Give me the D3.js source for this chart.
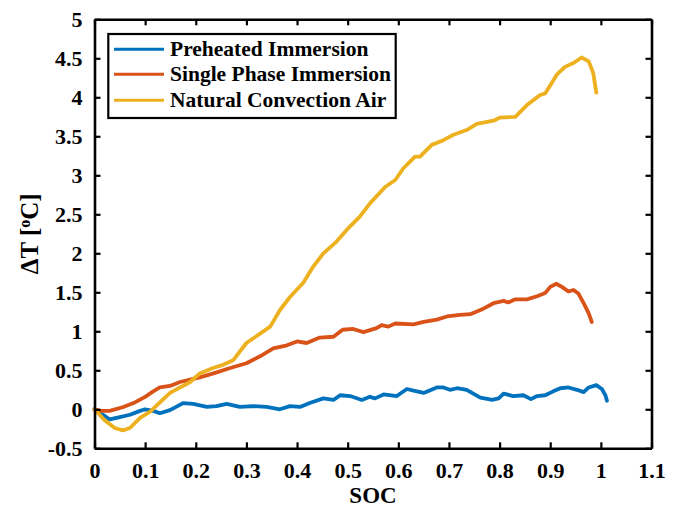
<!DOCTYPE html>
<html>
<head>
<meta charset="utf-8">
<script src="https://cdn.jsdelivr.net/npm/d3@7"></script>
<style>
  html, body { margin: 0; padding: 0; background: #fff; }
  svg { display: block; font-family: "Liberation Serif", "Times New Roman", serif; font-weight: bold; }
</style>
</head>
<body>
<svg id="chart" width="680" height="513"></svg>
<script>
// Temperature rise vs. state of charge for three cooling strategies
const seriesNames = ["Preheated Immersion", "Single Phase Immersion", "Natural Convection Air"];
const seriesColors = ["#0072BD", "#D95319", "#EDB120"];

const preheatedSOC = [0, 0.017, 0.03, 0.05, 0.07, 0.09, 0.10, 0.116, 0.129, 0.149, 0.175, 0.195, 0.222, 0.241, 0.261, 0.287, 0.314, 0.34, 0.366, 0.386, 0.406, 0.425, 0.452, 0.472, 0.485, 0.505, 0.528, 0.544, 0.554, 0.571, 0.597, 0.617, 0.63, 0.65, 0.676, 0.689, 0.702, 0.716, 0.735, 0.748, 0.762, 0.778, 0.785, 0.798, 0.808, 0.827, 0.847, 0.862, 0.874, 0.89, 0.906, 0.92, 0.936, 0.953, 0.966, 0.976, 0.991, 1.002, 1.009, 1.012];
const preheatedDT  = [0, -0.07, -0.13, -0.10, -0.07, -0.02, 0.0, -0.02, -0.05, -0.01, 0.08, 0.07, 0.03, 0.04, 0.07, 0.03, 0.04, 0.03, 0.0, 0.04, 0.03, 0.08, 0.14, 0.12, 0.18, 0.17, 0.12, 0.16, 0.14, 0.19, 0.17, 0.26, 0.24, 0.21, 0.28, 0.28, 0.25, 0.27, 0.25, 0.20, 0.15, 0.13, 0.12, 0.14, 0.20, 0.17, 0.18, 0.13, 0.17, 0.18, 0.23, 0.27, 0.28, 0.25, 0.22, 0.28, 0.31, 0.26, 0.18, 0.11];

const singleSOC = [0, 0.011, 0.03, 0.057, 0.077, 0.10, 0.116, 0.129, 0.149, 0.169, 0.189, 0.208, 0.235, 0.268, 0.30, 0.327, 0.353, 0.38, 0.40, 0.419, 0.445, 0.472, 0.49, 0.511, 0.531, 0.557, 0.567, 0.58, 0.594, 0.63, 0.65, 0.676, 0.696, 0.722, 0.742, 0.768, 0.788, 0.808, 0.817, 0.831, 0.854, 0.874, 0.89, 0.90, 0.912, 0.923, 0.936, 0.946, 0.956, 0.966, 0.976, 0.982];
const singleDT  = [0, -0.02, -0.02, 0.03, 0.08, 0.16, 0.23, 0.28, 0.30, 0.35, 0.38, 0.41, 0.46, 0.53, 0.59, 0.68, 0.78, 0.82, 0.87, 0.85, 0.92, 0.93, 1.02, 1.03, 0.99, 1.04, 1.08, 1.06, 1.10, 1.09, 1.12, 1.15, 1.19, 1.21, 1.22, 1.29, 1.36, 1.39, 1.37, 1.41, 1.41, 1.45, 1.49, 1.57, 1.61, 1.57, 1.51, 1.53, 1.48, 1.36, 1.23, 1.12];

const naturalSOC = [0, 0.02, 0.04, 0.056, 0.07, 0.09, 0.11, 0.149, 0.189, 0.208, 0.234, 0.254, 0.274, 0.30, 0.327, 0.347, 0.366, 0.386, 0.412, 0.432, 0.452, 0.478, 0.498, 0.524, 0.544, 0.574, 0.594, 0.61, 0.633, 0.643, 0.666, 0.689, 0.709, 0.735, 0.755, 0.788, 0.801, 0.831, 0.854, 0.88, 0.89, 0.913, 0.929, 0.946, 0.962, 0.976, 0.985, 0.991];
const naturalDT  = [0, -0.14, -0.24, -0.27, -0.24, -0.11, -0.03, 0.21, 0.35, 0.46, 0.53, 0.57, 0.63, 0.85, 0.97, 1.06, 1.27, 1.44, 1.62, 1.83, 2.0, 2.15, 2.30, 2.47, 2.64, 2.85, 2.94, 3.09, 3.24, 3.24, 3.39, 3.45, 3.52, 3.58, 3.66, 3.70, 3.74, 3.75, 3.90, 4.03, 4.05, 4.29, 4.39, 4.44, 4.51, 4.46, 4.31, 4.06];

const xTickValues = [0, 0.1, 0.2, 0.3, 0.4, 0.5, 0.6, 0.7, 0.8, 0.9, 1, 1.1];
const xTickLabels = ["0", "0.1", "0.2", "0.3", "0.4", "0.5", "0.6", "0.7", "0.8", "0.9", "1", "1.1"];
const yTickValues = [-0.5, 0, 0.5, 1, 1.5, 2, 2.5, 3, 3.5, 4, 4.5, 5];
const yTickLabels = ["-0.5", "0", "0.5", "1", "1.5", "2", "2.5", "3", "3.5", "4", "4.5", "5"];

const svg = d3.select("#chart");
const plotL = 94.5, plotR = 651.5, plotT = 19.3, plotB = 448.3;

const x = d3.scaleLinear().domain([0, 1.1]).range([plotL, plotR]);
const y = d3.scaleLinear().domain([-0.5, 5]).range([plotB, plotT]);

const series = [
  { soc: preheatedSOC, dt: preheatedDT },
  { soc: singleSOC, dt: singleDT },
  { soc: naturalSOC, dt: naturalDT }
];

const line = d3.line().x(d => x(d[0])).y(d => y(d[1])).curve(d3.curveLinear);

// data lines (drawn in series order so later ones sit on top)
const lines = svg.append("g");
series.forEach((s, i) => {
  lines.append("path")
    .datum(s.soc.map((v, k) => [v, s.dt[k]]))
    .attr("fill", "none")
    .attr("stroke", seriesColors[i])
    .attr("stroke-width", 3.8)
    .attr("stroke-linejoin", "round")
    .attr("stroke-linecap", "round")
    .attr("d", line);
});

// axes with inward ticks on every side of the box
const tickLen = 6;
const fmtX = d => xTickLabels[xTickValues.indexOf(d)];
const fmtY = d => yTickLabels[yTickValues.indexOf(d)];

const gx = svg.append("g").attr("transform", `translate(0,${plotB})`)
  .call(d3.axisBottom(x).tickValues(xTickValues).tickFormat(fmtX).tickSizeInner(-tickLen).tickSizeOuter(0).tickPadding(14));
const gxTop = svg.append("g").attr("transform", `translate(0,${plotT})`)
  .call(d3.axisTop(x).tickValues(xTickValues).tickFormat("").tickSizeInner(-tickLen).tickSizeOuter(0));
const gy = svg.append("g").attr("transform", `translate(${plotL},0)`)
  .call(d3.axisLeft(y).tickValues(yTickValues).tickFormat(fmtY).tickSizeInner(-tickLen).tickSizeOuter(0).tickPadding(12));
const gyRight = svg.append("g").attr("transform", `translate(${plotR},0)`)
  .call(d3.axisRight(y).tickValues(yTickValues).tickFormat("").tickSizeInner(-tickLen).tickSizeOuter(0));

[gx, gxTop, gy, gyRight].forEach(g => {
  g.select(".domain").attr("stroke", "#000").attr("stroke-width", 2.6);
  g.selectAll(".tick line").attr("stroke", "#000").attr("stroke-width", 2.2);
  g.selectAll("text").attr("fill", "#000")
    .style("font-family", "'Liberation Serif', 'Times New Roman', serif")
    .style("font-weight", "bold").style("font-size", "22px");
});

// axis titles
svg.append("text")
  .attr("x", (plotL + plotR) / 2).attr("y", 503)
  .attr("text-anchor", "middle")
  .style("font-size", "23px")
  .text("SOC");

const yTitle = svg.append("text")
  .attr("transform", `translate(38,${(plotT + plotB) / 2}) rotate(-90)`)
  .attr("text-anchor", "middle")
  .style("font-size", "25px");
yTitle.append("tspan").text("\u0394T [");
yTitle.append("tspan").attr("baseline-shift", "super").style("font-size", "16px").text("o");
yTitle.append("tspan").text("C]");

// legend
const lg = svg.append("g");
lg.append("rect")
  .attr("x", 108.3).attr("y", 34).attr("width", 287.4).attr("height", 84)
  .attr("fill", "#fff").attr("stroke", "#000").attr("stroke-width", 2.2);
const rowY = [49.3, 74.3, 100.3];
seriesNames.forEach((name, i) => {
  lg.append("line")
    .attr("x1", 114).attr("x2", 164).attr("y1", rowY[i]).attr("y2", rowY[i])
    .attr("stroke", seriesColors[i]).attr("stroke-width", 3);
  lg.append("text")
    .attr("x", 170).attr("y", rowY[i] + 7)
    .style("font-size", "21.5px")
    .text(name);
});
</script>
</body>
</html>
